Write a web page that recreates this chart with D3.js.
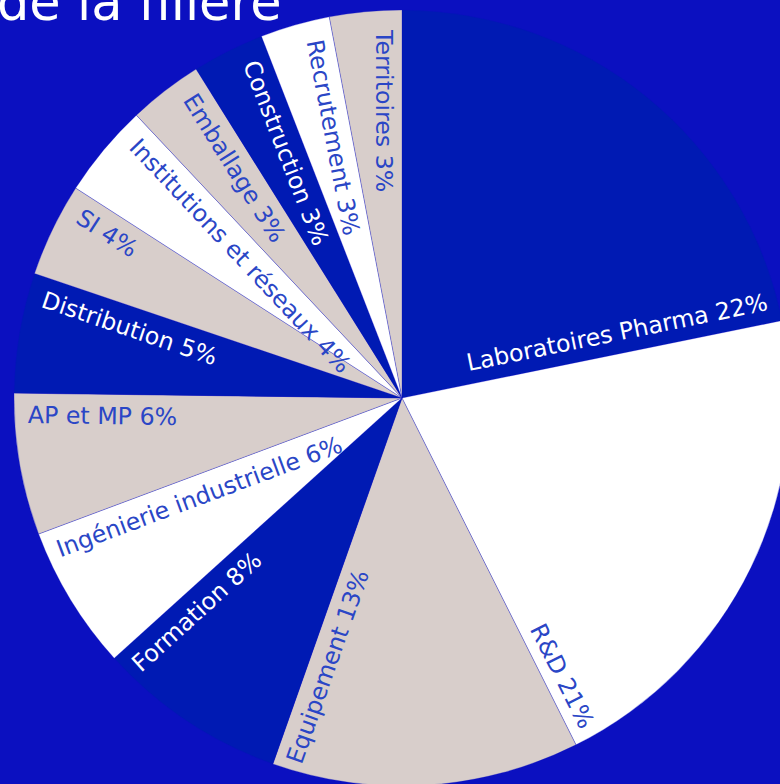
<!DOCTYPE html>
<html><head><meta charset="utf-8">
<script src="https://cdn.jsdelivr.net/npm/d3@7"></script>
<style>html,body{margin:0;padding:0;background:#0b10c0;}svg{display:block;}</style>
</head><body>
<svg id="c" width="780" height="784"></svg>
<script>
const categories = ["Laboratoires Pharma","R&D","Equipement","Formation","Ingénierie industrielle","AP et MP","Distribution","SI","Institutions et réseaux","Emballage","Construction","Recrutement","Territoires"];
const values = [21.8,20.8,12.8,7.9,6.0,5.9,5.0,3.9,3.9,3.1,3.0,2.9,3.0];
const colorKeys = ["blue","white","beige","blue","white","beige","blue","beige","white","beige","blue","white","beige"];
const titleText = "de la filière";

const W=780,H=784,cx=402,cy=398,R=388;
const fill = {blue:"#001ab3", white:"#ffffff", beige:"#d8cecb"};
const textFill = {blue:"#ffffff", white:"#2a46c6", beige:"#2a46c6"};
const svg=d3.select("#c");
svg.append("rect").attr("width",W).attr("height",H).attr("fill","#0b10c0");

const total=d3.sum(values);
const data=categories.map((c,i)=>({name:c,value:values[i],key:colorKeys[i],pct:Math.round(values[i]/total*100)}));
const pie=d3.pie().value(d=>d.value).sort(null);
const arcs=pie(data);
const arc=d3.arc().innerRadius(0).outerRadius(R);
const g=svg.append("g").attr("transform",`translate(${cx},${cy})`);
g.selectAll("path").data(arcs).join("path")
  .attr("d",arc).attr("fill",d=>fill[d.data.key])
  .attr("stroke","rgba(11,16,192,0.35)").attr("stroke-width",0.8);

const fs=23.7;
g.selectAll("text.lab").data(arcs).join("text").attr("class","lab")
  .attr("transform",d=>{
    const a=d.endAngle, deg=a*180/Math.PI;
    const right=a<=Math.PI;
    const rT = right ? 377 : 374 - 6*Math.cos(a);
    const off = right ? 16.6 + 4.9*Math.abs(Math.sin(a)) : 18 + 3.5*Math.abs(Math.sin(a));
    const base=`rotate(${deg-90}) translate(${rT},${-off})`;
    return right ? base : base+" rotate(180)";
  })
  .attr("text-anchor",d=>d.endAngle<=Math.PI?"end":"start")
  .attr("dy","0.35em")
  .attr("font-family","DejaVu Sans")
  .attr("font-size",fs)
  .attr("fill",d=>textFill[d.data.key])
  .text(d=>`${d.data.name} ${d.data.pct}%`);

svg.append("text").attr("x",-3).attr("y",20).attr("font-family","DejaVu Sans")
  .attr("font-size",51).attr("fill","#ffffff").text(titleText);
</script>
</body></html>
